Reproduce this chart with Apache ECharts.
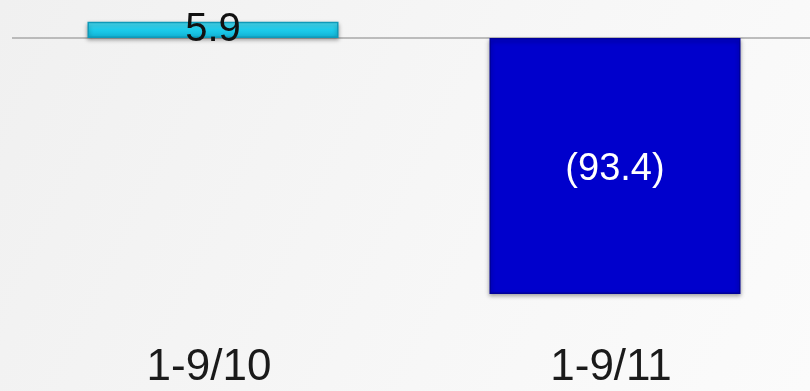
<!DOCTYPE html>
<html>
<head>
<meta charset="utf-8">
<script src="https://cdn.jsdelivr.net/npm/echarts@6/dist/echarts.min.js"></script>
<style>html,body{margin:0;padding:0;}#c{width:810px;height:391px;}</style>
</head>
<body>
<div id="c"></div>
<script>
const categories = ['1-9/10', '1-9/11'];
const values = [5.9, -93.4];
const valueLabels = ['5.9', '(93.4)'];

const styles = [
  { color: new echarts.graphic.LinearGradient(0,0,0,1,[{offset:0,color:'#4fe0f7'},{offset:0.5,color:'#1ccbea'},{offset:1,color:'#12b3d6'}]), border: '#0e9ab9', label: '#111111', size: 40, offset: [0, 0] },
  { color: '#0000cc', border: '#00009a', label: '#ffffff', size: 38, offset: [0, 4] }
];

const chart = echarts.init(document.getElementById('c'));
chart.setOption({
  backgroundColor: new echarts.graphic.LinearGradient(0,0,1,1,[{offset:0,color:'#f0f0f0'},{offset:0.6,color:'#f7f7f7'},{offset:1,color:'#fbfbfb'}]),
  animation: false,
  grid: { left: 12, width: 804, top: 10.6, height: 301.5, outerBoundsMode: 'none', containLabel: false },
  xAxis: {
    type: 'category',
    data: categories,
    axisLine: { show: false, onZero: false },
    axisTick: { show: false },
    axisLabel: { margin: 34, fontSize: 44, color: '#1a1a1a', padding: [0, 8, 0, 0], fontFamily: 'Liberation Sans, Arial, sans-serif' }
  },
  yAxis: {
    type: 'value', min: -100, max: 10,
    show: false, splitLine: { show: false }
  },
  series: [{
    type: 'bar',
    barWidth: 251,
    data: values.map((v, i) => ({
      value: v,
      itemStyle: { color: styles[i].color, borderColor: styles[i].border, borderWidth: 1.5, shadowColor: 'rgba(0,0,0,0.35)', shadowBlur: 4, shadowOffsetY: 2 },
      label: { show: true, position: 'inside', formatter: valueLabels[i], color: styles[i].label, fontSize: styles[i].size, offset: styles[i].offset, fontFamily: 'Liberation Sans, Arial, sans-serif' }
    })),
    markLine: {
      symbol: 'none', silent: true, z: 1,
      label: { show: false },
      lineStyle: { color: '#a8a8a8', width: 1.5, type: 'solid' },
      data: [{ yAxis: 0 }]
    }
  }]
});
</script>
</body>
</html>
